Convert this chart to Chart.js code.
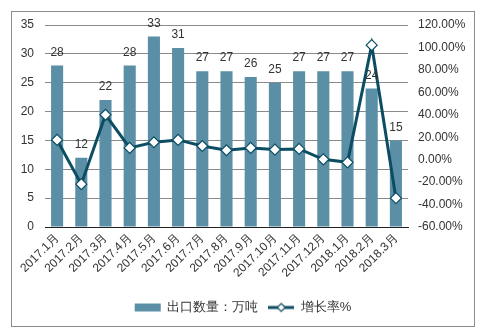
<!DOCTYPE html>
<html>
<head>
<meta charset="utf-8">
<script src="https://cdn.jsdelivr.net/npm/chart.js@4/dist/chart.umd.min.js"></script>
<style>
  html, body { margin: 0; padding: 0; background: #fff; }
  #wrap { width: 486px; height: 332px; position: relative; }
</style>
</head>
<body>
<div id="wrap"><canvas id="c" width="486" height="332"></canvas></div>
<script>
// Monthly export volume (万吨) and year-on-year growth rate (%)
const months = ['2017.1月','2017.2月','2017.3月','2017.4月','2017.5月','2017.6月','2017.7月','2017.8月','2017.9月','2017.10月','2017.11月','2017.12月','2018.1月','2018.2月','2018.3月'];
const exportVolume = [28, 12, 22, 28, 33, 31, 27, 27, 26, 25, 27, 27, 27, 24, 15];
const growthRate = [17.6, -21.8, 40.0, 10.5, 15.5, 17.6, 12.2, 8.4, 10.5, 9.0, 9.6, 0.3, -2.4, 102.0, -34.3];
const volumeTicks = [0, 5, 10, 15, 20, 25, 30, 35];
const rateTicks = [-60, -40, -20, 0, 20, 40, 60, 80, 100, 120];

const barColor = '#5b8fa6';
const lineColor = '#0d4d63';
const textColor = '#333333';
const FONT = '"Liberation Sans", Arial, sans-serif';

// legend swatch for the line series: short line with a diamond marker
function lineSwatch() {
  const cv = document.createElement('canvas');
  cv.width = 26; cv.height = 12;
  const g = cv.getContext('2d');
  g.strokeStyle = lineColor; g.lineWidth = 3;
  g.beginPath(); g.moveTo(0, 6); g.lineTo(26, 6); g.stroke();
  g.fillStyle = '#fff'; g.lineWidth = 1.2;
  g.beginPath(); g.moveTo(13, 2); g.lineTo(17, 6); g.lineTo(13, 10); g.lineTo(9, 6); g.closePath();
  g.fill(); g.stroke();
  return cv;
}

// outer frame around the whole chart
const framePlugin = {
  id: 'frame',
  beforeDraw(chart) {
    const ctx = chart.ctx;
    ctx.save();
    ctx.fillStyle = '#fff';
    ctx.fillRect(0, 0, chart.width, chart.height);
    ctx.strokeStyle = '#8c8c8c';
    ctx.lineWidth = 1;
    ctx.strokeRect(11.5, 11.5, 463, 315);
    ctx.restore();
  }
};

// value labels above each bar
const barLabelPlugin = {
  id: 'barLabels',
  afterDatasetsDraw(chart) {
    const meta = chart.getDatasetMeta(0);
    const ctx = chart.ctx;
    ctx.save();
    ctx.font = '12px ' + FONT;
    ctx.fillStyle = textColor;
    ctx.textAlign = 'center';
    ctx.textBaseline = 'middle';
    meta.data.forEach((bar, i) => {
      ctx.fillText(String(exportVolume[i]), bar.x, bar.y - 13);
    });
    ctx.restore();
  }
};

new Chart(document.getElementById('c'), {
  data: {
    labels: months,
    datasets: [
      {
        type: 'bar',
        label: '出口数量：万吨',
        data: exportVolume,
        backgroundColor: barColor,
        yAxisID: 'y',
        order: 1,
        barPercentage: 0.5,
        categoryPercentage: 1.0
      },
      {
        type: 'line',
        label: '增长率%',
        data: growthRate,
        borderColor: lineColor,
        borderWidth: 3,
        pointStyle: 'rectRot',
        pointRadius: 5.5,
        pointBackgroundColor: '#ffffff',
        pointBorderColor: lineColor,
        pointBorderWidth: 1.2,
        tension: 0,
        yAxisID: 'y1',
        order: 0
      }
    ]
  },
  options: {
    responsive: false,
    animation: false,
    layout: { padding: { left: 0, right: 0, top: 25, bottom: 8 } },
    plugins: {
      tooltip: { enabled: false },
      legend: {
        position: 'bottom',
        labels: {
          font: { family: FONT, size: 13 },
          color: textColor,
          padding: 10,
          usePointStyle: true,
          pointStyleWidth: 26,
          boxHeight: 8,
          generateLabels(chart) {
            return [
              { text: '出口数量：万吨', fillStyle: barColor, strokeStyle: barColor, lineWidth: 0, pointStyle: 'rect', datasetIndex: 0, fontColor: textColor },
              { text: '增长率%', pointStyle: lineSwatch(), datasetIndex: 1, fontColor: textColor, lineWidth: 0 }
            ];
          }
        }
      }
    },
    scales: {
      x: {
        grid: { display: false, drawTicks: false },
        border: { display: true, color: '#222', width: 1 },
        ticks: {
          font: { family: FONT, size: 12 },
          color: textColor,
          maxRotation: 45,
          minRotation: 45,
          autoSkip: false,
          padding: 4
        },
        afterFit(scale) { scale.height = 64; }
      },
      y: {
        position: 'left',
        min: 0, max: 35,
        afterBuildTicks(scale) { scale.ticks = volumeTicks.map(v => ({ value: v })); },
        grid: { color: '#8a8a8a', lineWidth: 1, drawTicks: false },
        border: { display: false },
        ticks: { font: { family: FONT, size: 12 }, color: textColor, padding: 11 },
        afterFit(scale) { scale.width = 45; }
      },
      y1: {
        position: 'right',
        min: -60, max: 120,
        afterBuildTicks(scale) { scale.ticks = rateTicks.map(v => ({ value: v })); },
        grid: { display: false, drawTicks: false },
        border: { display: false },
        ticks: {
          font: { family: FONT, size: 12 },
          color: textColor,
          padding: 10,
          callback: v => v.toFixed(2) + '%'
        },
        afterFit(scale) { scale.width = 78; }
      }
    }
  },
  plugins: [framePlugin, barLabelPlugin]
});
</script>
</body>
</html>
